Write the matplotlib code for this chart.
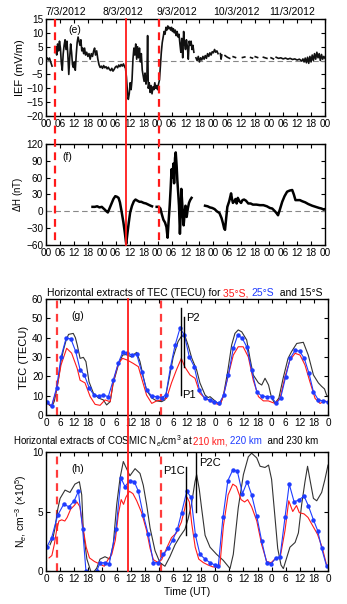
"""Pannelli (e)-(h): IEF, Delta H, TEC e COSMIC Ne, 7-11 marzo 2012."""
import numpy as np
import matplotlib
matplotlib.use("Agg")
import matplotlib.pyplot as plt
from matplotlib.lines import Line2D
from matplotlib.transforms import blended_transform_factory

plt.rcParams['font.family'] = ['Liberation Sans', 'DejaVu Sans']
plt.rcParams['mathtext.fontset'] = 'custom'
plt.rcParams['mathtext.rm'] = 'Liberation Sans'
plt.rcParams['mathtext.it'] = 'Liberation Sans:italic'

nan = np.nan
RED = "#ff1a1a"
BLUE = "#1f3cff"

# --- dati (ore dal 7/3/2012 00 UT, valore) ---
ief = [(0.0, 0.5), (0.5, 1.0), (1.0, 0.2), (1.5, 0.9), (2.0, -0.5), (2.6, -2.0), (3.0, nan),
       (3.8, 3.0), (4.2, 5.0), (4.6, 2.0), (5.0, 6.0), (5.4, 3.5), (5.8, 7.0), (6.2, 4.5), (6.6, -1.0),
       (7.0, -3.5), (7.4, 2.5), (7.8, 5.5), (8.2, 7.5), (8.6, 4.0), (9.0, 7.0), (9.4, 2.0), (9.8, -5.0),
       (10.2, 1.0), (10.6, 6.0), (11.0, 3.0), (11.4, -1.5), (11.8, -2.5), (12.2, -0.5), (12.6, -3.5),
       (13.0, 2.0), (13.4, 6.5), (13.8, 8.5), (14.2, 7.0), (14.6, 5.5), (15.0, 7.5), (15.4, 3.5),
       (15.8, 4.5), (16.2, 2.5), (16.6, 4.5), (17.0, 2.0), (17.5, 3.0), (18.0, 1.5), (18.5, 2.5),
       (19.0, 0.5), (19.5, 2.5), (20.0, 1.5), (20.5, 3.5), (20.9, 4.5), (21.3, 2.0), (21.8, 3.5),
       (22.3, 0.5), (22.8, -1.5), (23.3, -2.5), (23.8, -2.0), (24.3, -2.8), (24.8, -1.8), (25.3, -2.6),
       (25.8, -2.2), (26.3, -3.0), (26.8, -2.4), (27.3, -3.2), (27.8, -3.6), (28.3, -2.8), (28.8, -3.8),
       (29.3, -3.2), (29.8, -2.4), (30.3, -2.0), (30.8, -2.6), (31.3, -1.6), (31.8, -2.2), (32.3, -1.4),
       (32.8, -2.0), (33.3, -1.2), (33.8, -2.2), (34.2, -2.8), (34.6, -6.0), (35.0, -11.0), (35.4, -14.0),
       (35.8, -12.0), (36.2, -8.0), (36.6, -10.5), (37.0, -7.0), (37.4, 0.5), (37.8, 4.5), (38.2, 2.0),
       (38.6, 6.0), (39.0, 0.5), (39.4, 5.0), (39.8, 1.0), (40.2, 4.5), (40.6, -0.5), (41.0, 2.5),
       (41.4, -3.5), (41.8, -5.5), (42.2, -7.5), (42.6, -4.5), (43.0, -8.5), (43.4, -6.0), (43.7, 9.0),
       (44.0, -10.0), (44.4, -8.0), (44.8, -11.5), (45.2, -9.0), (45.6, -12.0), (46.0, -9.5),
       (46.4, -10.5), (46.8, -8.0), (47.2, -10.0), (47.6, -9.0), (48.0, -10.5), (48.4, -8.5),
       (48.8, -7.0), (49.2, -2.0), (49.6, 3.0), (50.0, 6.5), (50.4, 8.5), (50.8, 10.5), (51.2, 9.5),
       (51.6, 12.0), (52.0, 11.0), (52.4, 12.5), (52.8, 11.5), (53.2, 12.0), (53.6, 11.0), (54.0, 12.0),
       (54.4, 10.5), (54.8, 11.5), (55.2, 10.0), (55.6, 11.0), (56.0, 9.0), (56.4, 10.5), (56.8, 8.5),
       (57.2, 9.5), (57.6, 6.0), (58.0, 3.0), (58.4, 8.0), (58.8, 1.0), (59.2, 10.5), (59.6, 6.0),
       (60.0, 4.0), (60.4, 7.5), (60.8, 5.0), (61.2, 0.5), (61.6, 7.0), (62.0, 5.5), (62.4, 7.0),
       (62.8, 4.0), (63.2, 5.5), (63.6, 3.0), (64.0, nan),
       (64.5, 1.0), (65.0, 0.0), (65.5, 1.5), (66.0, -0.5), (66.5, 1.0), (67.0, 0.2), (67.5, 1.5),
       (68.0, 0.5), (68.5, 1.8), (69.0, 0.8), (69.5, 2.5), (70.0, 1.5), (70.5, 2.8), (71.0, 2.0),
       (71.5, 3.2), (72.0, 2.8), (72.5, 4.0), (73.0, 3.0), (73.5, 3.5), (74.0, 2.5), (74.5, nan),
       (75.0, 2.5), (75.3, 0.5), (75.6, 2.0), (76.0, nan), (77.0, 1.8), (78.0, 1.2), (79.0, 0.8),
       (79.5, nan), (80.5, 1.4), (81.5, 1.1), (82.0, nan), (84.5, 1.1), (85.5, 1.3), (86.0, nan),
       (88.0, 1.1), (88.8, 0.9), (89.2, nan), (90.0, 1.4), (91.0, 1.1), (91.5, nan), (93.5, 1.2),
       (95.0, 0.8), (95.5, nan), (96.8, 1.0), (97.8, 0.6), (98.2, nan), (99.0, 1.2), (100.0, 0.8),
       (101.0, 1.0), (102.0, 0.6), (103.0, 0.9), (104.0, 0.5), (105.0, 0.8), (106.0, 0.4), (107.0, 0.6),
       (108.0, 0.2), (109.0, 0.5), (110.0, -0.2), (110.5, 0.6), (111.0, -0.5), (111.5, 0.9),
       (112.0, -0.8), (112.5, 1.2), (113.0, -1.0), (113.5, 1.5), (114.0, -0.5), (114.5, 2.0),
       (115.0, 0.0), (115.5, 2.5), (116.0, 0.5), (116.5, 3.0), (117.0, 1.0), (117.5, 2.5), (118.0, 0.0),
       (118.5, 2.2), (119.0, 0.5), (119.5, 1.5), (120.0, 0.8)]

dH = [(20.0, 8), (21, 8), (22, 9), (23, 7), (24, 8), (24.5, 6), (25.3, 3), (26.0, 0), (26.6, -2),
      (27.3, 5), (28.0, 12), (29.0, 22), (29.8, 27), (30.5, 26), (31.2, 24), (31.8, 16), (32.5, 0),
      (33.3, -20), (33.9, -38), (34.5, -58), (35.0, -40), (35.6, -20), (36.2, -2), (37.0, 10),
      (37.8, 18), (38.5, 21), (39.3, 19), (40.2, 17), (41.0, 17), (42.0, 15), (43.0, 14), (44.0, 12),
      (45.0, 10), (45.6, 9), (46.5, nan),
      (47.6, 8), (48.5, 8), (49.2, 5), (49.8, -5), (50.5, -15), (51.2, -20), (51.8, -28), (52.3, -47),
      (52.7, -20), (53.2, 10), (53.6, 40), (54.0, 75), (54.4, 60), (54.8, 85), (55.1, 50), (55.5, 95),
      (55.8, 105), (56.2, 80), (56.5, 55), (56.9, 30), (57.2, 10), (57.6, -40), (57.9, -10), (58.2, 40),
      (58.5, 20), (58.8, 0), (59.2, -25), (59.6, -5), (60.0, 10), (60.5, -10), (61.0, 5), (61.5, 15),
      (62.0, 20), (62.6, 24), (63.0, nan),
      (68.4, 10), (69.5, 9), (70.5, 7), (71.5, 6), (72.5, 4), (73.5, 0), (74.6, -3), (75.5, -12),
      (76.1, -21), (76.6, -30), (77.0, -33), (77.5, -12), (78.0, 8), (78.8, 18), (79.6, 32), (80.0, 22),
      (80.4, 15), (81.0, 18), (81.5, 22), (82.0, 14), (82.5, 24), (83.2, 18), (83.9, 15), (84.5, 20),
      (85.2, 21), (86.0, 19), (87.0, 14), (88.0, 14), (89.0, 12), (90.5, 12), (92.0, 11), (93.5, 11),
      (95.0, 9), (96.3, 6), (97.3, 5), (98.5, 0), (99.3, -4), (99.8, -7), (100.5, 2), (101.6, 17),
      (102.6, 27), (103.7, 35), (104.8, 37), (105.9, 38), (106.6, 30), (107.3, 20), (108.2, 20),
      (109.2, 20), (110.2, 18), (111.5, 16), (112.8, 13), (114.5, 10), (116.0, 8), (117.5, 6),
      (118.5, 5), (119.5, 3), (120, 4)]

tec_35S = [(0.3, 6.6), (2.4, 4.4), (4.5, 13), (6.4, 25.9), (8.8, 34.5), (10.9, 32), (13.3, 24),
           (14.5, 18), (16.6, 16.6), (18.8, 9.5), (20.9, 5.5), (23.0, 5.0), (25.1, 7.8), (27.3, 6.9),
           (28.6, 17.2), (30.8, 26.7), (32.6, 29.3), (34.6, 28.4), (37.1, 26.7), (39.3, 25), (40.7, 19),
           (42.8, 10.3), (45.0, 6), (47.1, 7.3), (49.2, 7.8), (51.3, 8.6), (53.4, 16.6), (55.5, 23.3),
           (57.6, 29.3), (59.0, 25), (61.3, 20.7), (63.4, 19), (65.5, 11.2), (67.7, 8.6), (69.8, 7.3),
           (71.9, 6), (74.0, 5.2), (75.4, 9.5), (77.6, 20.7), (79.7, 31), (81.8, 35.3), (83.9, 35.3),
           (86.1, 30), (88.2, 18), (90.4, 9.5), (92.5, 7.3), (94.6, 7.3), (97.4, 6), (99.6, 8.6),
           (101.7, 19.8), (103.8, 28.4), (106.0, 31.9), (108.1, 31), (110.2, 25.9), (112.3, 17.2),
           (114.5, 8.6), (116.6, 6), (118.7, 7.3), (120, 6.6)]

tec_25S = [(0.3, 6.6), (2.4, 4.8), (4.5, 14), (6.4, 30), (8.6, 40), (10.6, 39.3), (12.6, 33),
           (14.5, 23.5), (16.3, 20.7), (18.4, 14), (20.4, 10.3), (22.5, 9.8), (24.4, 10.3), (26.5, 9.5),
           (28.6, 18), (30.8, 27), (32.6, 32.4), (34.6, 32), (36.7, 31), (38.6, 31.3), (40.7, 22.4),
           (42.8, 13), (45.0, 9.8), (47.1, 9.5), (49.2, 9), (51.0, 10.3), (53.0, 25), (54.9, 36),
           (57.0, 44.8), (58.9, 41.4), (61.0, 30), (63.1, 25), (65.3, 13), (67.5, 8.6), (69.6, 7.8),
           (71.7, 6.9), (73.7, 6), (75.6, 10.3), (77.6, 20.7), (79.7, 34.5), (81.6, 41.4), (83.5, 39.7),
           (85.4, 35.3), (87.5, 23.3), (89.7, 12), (91.8, 9.8), (93.9, 9.5), (96.0, 9.5), (97.9, 6),
           (99.8, 8.6), (102.0, 19.8), (103.9, 29.3), (106.0, 33.5), (107.9, 33), (109.9, 29.3),
           (111.9, 21.6), (113.8, 12), (115.9, 7.8), (118.0, 7.3), (120, 6.6)]

tec_15S = [(0.3, 6.6), (1.5, 5), (2.5, 4.4), (3.5, 7), (4.5, 12.8), (5.5, 20), (6.4, 28), (7.5, 34),
           (8.6, 38.8), (9.6, 41.7), (11.6, 42.2), (12.5, 40), (13.3, 36.2), (14.5, 29.3), (15.9, 29.8),
           (17.0, 27.6), (18.3, 17.2), (20.2, 11.2), (22.3, 8.8), (24.4, 7.8), (25.8, 5.2), (27.3, 6.9),
           (28.6, 16.4), (30.8, 25.9), (32.6, 31), (34.3, 31.3), (36.4, 30), (37.6, 31.5), (38.6, 32.4),
           (40.0, 27.6), (41.4, 19.8), (42.8, 12.8), (45.0, 8.8), (47.1, 7.3), (49.2, 6.9), (50.6, 7.8),
           (52.7, 20.7), (54.1, 29.8), (56.2, 38), (57.5, 40.5), (59.0, 41.4), (60.5, 36), (62.0, 29.5),
           (64.1, 23.3), (65.5, 16.6), (67.7, 10.3), (69.0, 9), (69.8, 9.5), (71.9, 7.3), (74.0, 5.2),
           (75.4, 9.5), (77.3, 22.4), (79.0, 36.2), (80.4, 42.2), (81.8, 44), (83.3, 43), (85.4, 38.8),
           (86.8, 29.3), (88.2, 20.7), (90.4, 16.6), (91.8, 15.5), (93.2, 19), (94.7, 15.5), (96.0, 8.8),
           (97.4, 6), (99.1, 8.8), (100.9, 19), (103.0, 29.3), (104.5, 32.8), (106.7, 37), (109.5, 37.6),
           (111.6, 31), (113.8, 20.7), (115.9, 16.6), (117.3, 14.8), (118.5, 13.5), (119.4, 10.3),
           (120, 9.5)]

ne_210 = [(1.3, 1.1), (2.5, 1.3), (3.5, 2.2), (4.5, 3.4), (5.5, 4.2), (6.7, 4.3), (8.0, 4.2), (9.0, 4.5),
          (10.5, 5.2), (12.0, 5.5), (13.2, 5.8), (14.4, 5.4), (15.7, 3.7), (17.1, 2.0), (18.5, 1.1),
          (20.6, 0.8), (22.7, 0.6), (24.8, 0.4), (26.2, 0.9), (28.0, 1.4), (29.5, 2.6), (30.8, 4.8),
          (32.0, 6.0), (33.0, 5.6), (34.0, 6.2), (35.5, 6.7), (37.0, 6.5), (38.6, 5.9), (40.7, 4.9),
          (42.8, 3.4), (44.3, 1.9), (45.7, 0.95), (47.8, 0.7), (49.2, 0.95), (51.3, 1.9), (53.4, 2.8),
          (55.5, 3.2), (57.6, 4.1), (59.0, 5.2), (60.0, 6.2), (61.0, 5.8), (62.0, 4.0), (63.5, 2.0),
          (65.0, 1.0), (67.0, 0.7), (69.0, 0.5), (71.0, 0.35), (73.0, 0.3), (74.0, 0.5), (75.5, 3.8),
          (77.5, 6.4), (79.5, 7.3), (81.0, 7.1), (83.0, 6.0), (84.5, 5.8), (85.8, 6.0), (87.5, 5.4),
          (89.7, 4.2), (91.8, 2.2), (93.9, 0.8), (95.8, 0.7), (97.9, 1.1), (99.6, 1.1), (101.7, 3.4),
          (103.3, 5.9), (105.0, 5.0), (106.6, 5.5), (107.8, 4.9), (109.8, 4.8), (111.5, 4.5),
          (113.5, 3.8), (115.5, 3.1), (117.5, 2.0), (119.4, 0.5)]

ne_220 = [(0.3, 2.0), (2.4, 2.8), (5.0, 4.7), (7.5, 5.6), (9.8, 5.4), (12.0, 5.9), (13.8, 6.7),
          (15.6, 3.5), (17.0, 0.0), (18.5, -1.0), (20.0, -1.2), (21.6, 0.0), (23.0, 0.7), (25.1, 0.7),
          (26.9, 0.6), (29.8, 3.5), (31.9, 7.8), (33.6, 7.1), (35.7, 7.6), (37.6, 7.5), (39.3, 6.7),
          (41.4, 4.7), (43.5, 3.1), (45.7, 0.7), (47.8, 0.7), (49.9, 1.4), (52.0, 1.9), (53.9, 2.6),
          (55.9, 3.5), (57.7, 4.9), (59.9, 6.7), (61.7, 6.2), (63.6, 3.0), (65.5, 1.4), (67.7, 1.0),
          (69.8, 0.7), (71.9, 0.5), (73.3, 0.4), (75.3, 4.5), (77.4, 7.6), (79.5, 8.5), (81.4, 8.4),
          (83.6, 6.5), (85.6, 7.5), (87.5, 6.4), (89.7, 4.6), (91.8, 2.5), (93.9, 0.7), (95.8, 0.6),
          (97.9, 1.1), (99.6, 1.2), (101.7, 4.5), (103.5, 7.3), (105.6, 5.8), (107.8, 6.0), (109.8, 6.3),
          (111.6, 5.5), (113.8, 4.3), (115.6, 3.4), (117.3, 1.9), (119.4, 0.4)]

ne_230 = [(1.7, 2.2), (3.0, 2.8), (3.8, 3.6), (5.0, 5.2), (6.0, 6.1), (8.1, 6.8), (10.2, 6.6), (12.3, 7.3),
          (14.2, 7.5), (15.2, 6.4), (15.9, 3.3), (17.4, 1.0), (19.5, -0.3), (21.6, 0.25), (23.0, 1.0),
          (25.1, 1.2), (27.2, 1.0), (28.6, 2.2), (30.1, 5.6), (31.5, 7.8), (32.9, 9.2), (34.3, 8.6),
          (35.7, 8.0), (37.9, 8.6), (40.0, 8.2), (41.4, 7.2), (42.8, 5.6), (44.3, 3.6), (46.4, 1.7),
          (48.5, 0.7), (50.6, 0.4), (52.7, 1.2), (54.9, 2.2), (57.0, 2.9), (59.1, 3.5), (60.5, 4.4),
          (61.9, 5.6), (63.4, 7.5), (64.1, 8.1), (65.2, 6.9), (66.2, 5.3), (67.7, 3.0), (69.8, 2.0),
          (72.6, 1.4), (75.4, 0.9), (77.5, 0.4), (78.3, 0.2), (79.7, 1.4), (81.8, 5.3), (84.0, 8.1),
          (86.1, 9.6), (87.5, 9.9), (89.7, 9.5), (91.1, 8.8), (93.2, 8.7), (94.7, 8.9), (96.0, 7.7),
          (97.4, 4.6), (98.6, 1.9), (100.0, 0.5), (101.0, 0.2), (102.4, 1.1), (103.8, 2.0), (106.0, 2.4),
          (107.4, 3.2), (108.8, 5.6), (110.2, 7.5), (111.3, 8.8), (112.3, 7.7), (113.8, 6.1),
          (115.2, 5.9), (117.3, 6.6), (118.7, 7.7), (120.0, 8.9)]

date_labels = ["7/3/2012", "8/3/2012", "9/3/2012", "10/3/2012", "11/3/2012"]
date_hours = [8.5, 33, 56.5, 82, 106]
lab_ef = ["00", "06", "12", "18"] * 5 + ["00"]
lab_gh = ["0", "6", "12", "18"] * 5 + ["0"]
XT = np.arange(0, 121, 6)

# linee evento (ore)
ev_ef = (3.7, 34.4, 48.6)
ev_gh = (4.7, 35.1, 49.1)

W, H = 347, 604
fig = plt.figure(figsize=(W / 100, H / 100), dpi=100)


def frac(l, t, r, b):
    return [l / W, 1 - b / H, (r - l) / W, (b - t) / H]


ax_e = fig.add_axes(frac(46, 19, 325, 116))
ax_f = fig.add_axes(frac(46, 144, 325, 245))
ax_g = fig.add_axes(frac(46, 299, 328, 415))
ax_h = fig.add_axes(frac(46, 452, 328, 571))


def style(ax, labels):
    ax.set_xlim(0, 120)
    ax.set_xticks(XT)
    ax.set_xticklabels(labels)
    ax.tick_params(direction="in", top=True, right=True, length=3, width=0.8,
                   labelsize=7.2, pad=2)
    for s in ax.spines.values():
        s.set_linewidth(1.0)


def xy(pairs):
    a = np.array(pairs, dtype=float)
    return a[:, 0], a[:, 1]


# --- (e) IEF ---
style(ax_e, lab_ef)
ax_e.set_ylim(-20, 15)
ax_e.set_yticks(range(-20, 16, 5))
ax_e.axhline(0, color="#888888", lw=0.8, dashes=(5, 3))
ax_e.plot(*xy(ief), color="#111111", lw=1.2)
ax_e.set_ylabel("IEF (mV/m)", fontsize=8, labelpad=1)
ax_e.text(0.08, 0.86, "(e)", transform=ax_e.transAxes, fontsize=7.5)
for lab, hh in zip(date_labels, date_hours):
    ax_e.text(hh, 1.02, lab, transform=blended_transform_factory(ax_e.transData, ax_e.transAxes),
              ha="center", va="bottom", fontsize=7.5)

# --- (f) Delta H ---
style(ax_f, lab_ef)
ax_f.set_ylim(-60, 120)
ax_f.set_yticks(range(-60, 121, 30))
ax_f.axhline(0, color="#888888", lw=0.8, dashes=(5, 3))
ax_f.plot(*xy(dH), color="black", lw=1.8)
ax_f.set_ylabel(r"$\Delta$H (nT)", fontsize=7, labelpad=1)
ax_f.text(0.06, 0.84, "(f)", transform=ax_f.transAxes, fontsize=7.5)

# linee rosse verticali (continue attraverso lo spazio tra i pannelli)
for ax_a, ax_b, evs in ((ax_e, ax_f, ev_ef), (ax_g, ax_h, ev_gh)):
    tr = blended_transform_factory(ax_a.transData, fig.transFigure)
    ytop = ax_a.get_position().y1
    ybot = ax_b.get_position().y0
    for i, hh in enumerate(evs):
        if ax_a is ax_e or i == 1:
            ls = "-" if i == 1 else (0, (3.5, 2.5))
            fig.add_artist(Line2D([hh, hh], [ytop, ybot], transform=tr, color=RED,
                                  lw=1.3 if i == 1 else 1.6, ls=ls, zorder=5))
        else:
            for ax in (ax_a, ax_b):
                ax.axvline(hh, color=RED, lw=1.6, ls=(0, (3.5, 2.5)), alpha=0.85)

# --- (g) TEC ---
style(ax_g, lab_gh)
ax_g.set_ylim(0, 60)
ax_g.set_yticks(range(0, 61, 10))
ax_g.plot(*xy(tec_15S), color="#333333", lw=0.8)
ax_g.plot(*xy(tec_35S), color=RED, lw=0.8)
ax_g.plot(*xy(tec_25S), color=BLUE, lw=0.8, marker="o", ms=2.2)
ax_g.set_ylabel("TEC (TECU)", fontsize=8, labelpad=2)
ax_g.text(0.09, 0.83, "(g)", transform=ax_g.transAxes, fontsize=7.5)
ax_g.plot([57.4, 57.4], [10.3, 55.3], color="black", lw=1.0)
ax_g.plot([58.8, 58.8], [25, 50.5], color="black", lw=1.0)
ax_g.text(59.6, 50, "P2", fontsize=8, va="center")
ax_g.text(57.8, 10.5, "P1", fontsize=8, va="center")

# --- (h) COSMIC Ne ---
style(ax_h, lab_gh)
ax_h.set_ylim(0, 10)
ax_h.set_yticks([0, 5, 10])
ax_h.plot(*xy(ne_230), color="#333333", lw=0.8)
ax_h.plot(*xy(ne_210), color=RED, lw=0.8)
ax_h.plot(*xy(ne_220), color=BLUE, lw=0.8, marker="o", ms=2.2)
ax_h.set_ylabel(r"N$_e$, cm$^{-3}$ ($\times$10$^5$)", fontsize=7.5, labelpad=2)
ax_h.text(0.09, 0.83, "(h)", transform=ax_h.transAxes, fontsize=7.5)
ax_h.plot([59.6, 59.6], [3.0, 8.7], color="black", lw=1.0)
ax_h.plot([63.8, 63.8], [5.0, 9.9], color="black", lw=1.0)
ax_h.text(59.2, 8.4, "P1C", fontsize=8, ha="right", va="center")
ax_h.text(65.0, 9.1, "P2C", fontsize=8, ha="left", va="center")
ax_h.set_xlabel("Time (UT)", fontsize=7.5, labelpad=2)


# --- titoli multicolore ---
def color_title(x0, y, parts, size):
    r = fig.canvas.get_renderer()
    x = x0
    for s, c in parts:
        t = fig.text(x, y, s, color=c, fontsize=size, va="center", ha="left")
        bb = t.get_window_extent(r)
        x = bb.x1 / fig.bbox.width


color_title(47 / W, 1 - 293 / H,
            [("Horizontal extracts of TEC (TECU) for ", "black"), ("35°S, ", RED),
             ("25°S", BLUE), ("  and 15°S", "black")], 7.5)
color_title(13 / W, 1 - 441 / H,
            [(r"Horizontal extracts of COSMIC N$_e$/cm$^3$ at ", "black"), ("210 km, ", RED),
             ("220 km", BLUE), ("  and 230 km", "black")], 7)

fig.savefig("out.png", dpi=100)
